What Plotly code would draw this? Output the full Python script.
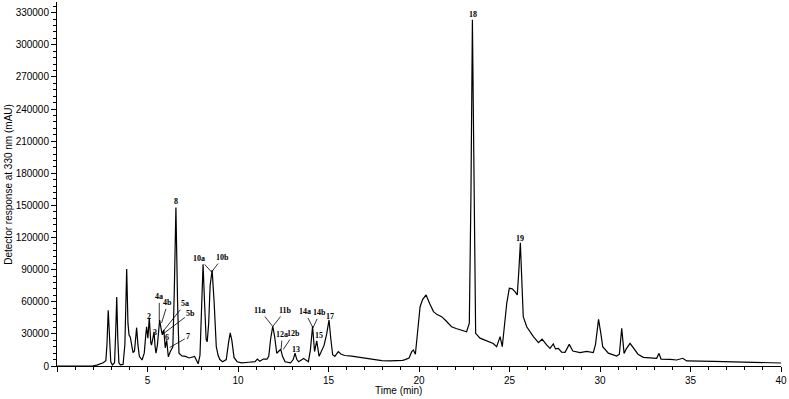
import plotly.graph_objects as go

# Retention time (min) and detector response (mAU)
time_min = [0.0, 1.5, 2.0, 2.2, 2.4, 2.55, 2.7, 2.76, 2.83, 2.9, 2.97, 3.06, 3.18, 3.24, 3.30, 3.36, 3.42, 3.5,
            3.65, 3.75, 3.85, 3.92, 3.98, 4.05, 4.12, 4.2, 4.28, 4.34, 4.40, 4.47, 4.55, 4.7, 4.82, 4.9, 4.95,
            5.02, 5.10, 5.18, 5.22, 5.30, 5.36, 5.42, 5.47, 5.55, 5.62, 5.67, 5.75, 5.82, 5.9, 5.98, 6.06, 6.15,
            6.25, 6.32, 6.4, 6.48, 6.57, 6.66, 6.74, 6.9, 7.1, 7.3, 7.5, 7.6, 7.7, 7.8, 7.9, 7.98, 8.07, 8.15,
            8.24, 8.30, 8.38, 8.46, 8.57, 8.68, 8.8, 8.9, 9.0, 9.15, 9.35, 9.48, 9.57, 9.66, 9.78, 9.95, 10.2,
            10.6, 10.94, 11.07, 11.2, 11.4, 11.6, 11.7, 11.8, 11.92, 12.02, 12.14, 12.25, 12.36, 12.46, 12.6,
            12.9, 13.05, 13.15, 13.25, 13.35, 13.5, 13.63, 13.75, 13.89, 14.0, 14.12, 14.23, 14.35, 14.48, 14.6,
            14.75, 14.9, 15.03, 15.13, 15.23, 15.35, 15.54, 15.7, 15.9, 16.28, 16.6, 17.2, 17.5, 17.94, 18.4,
            18.86, 19.1, 19.23, 19.45, 19.6, 19.69, 19.8, 19.9, 20.06, 20.2, 20.39, 20.6, 20.8, 21.0, 21.25,
            21.5, 21.8, 22.05, 22.27, 22.63, 22.78, 22.87, 22.95, 23.03, 23.13, 23.37, 23.6, 23.92, 24.1, 24.29,
            24.48, 24.6, 24.72, 24.85, 24.99, 25.15, 25.3, 25.43, 25.52, 25.6, 25.68, 25.76, 25.95, 26.32, 26.6,
            26.8, 27.05, 27.24, 27.42, 27.54, 27.7, 27.88, 28.07, 28.3, 28.5, 28.9, 29.26, 29.63, 29.75, 29.92,
            30.05, 30.15, 30.46, 30.92, 31.07, 31.2, 31.33, 31.45, 31.66, 31.85, 32.1, 32.39, 33.13, 33.26,
            33.37, 33.87, 34.24, 34.57, 34.79, 36.26, 38.1, 40.0]
response = [0, 0, 200, 800, 1800, 3000, 5000, 20000, 52000, 20000, 4000, 1000, 3000, 30000, 64500, 25000, 3000, 1000,
            1500, 20000, 90700, 40000, 29000, 27000, 20000, 12500, 14000, 25000, 35800, 20000, 9000, 5600, 12000, 28000, 36700,
            26000, 45000, 22000, 19600, 26000, 32000, 18000, 12000, 20000, 35000, 43000, 35000, 29000, 33600, 17000, 24000, 8700,
            13000, 15000, 18000, 70000, 148000, 60000, 12000, 9500, 9000, 7500, 8700, 9000, 5500, 2000, 10000, 55000, 95000, 60000,
            25000, 22700, 40000, 75000, 89700, 60000, 18000, 10000, 6000, 4000, 6000, 22000, 31000, 24000, 8000, 4000, 3000,
            3500, 4000, 6500, 4500, 6500, 6500, 9000, 25000, 37000, 28000, 11900, 14000, 15600, 9000, 4000,
            3000, 6000, 11900, 6000, 4000, 5600, 7000, 5500, 4000, 15000, 37000, 13500, 23400, 9000, 14000,
            19000, 30000, 43000, 25000, 10500, 9000, 13400, 11000, 9800, 9300, 8400, 6500, 6000, 5000, 4800,
            4700, 5200, 6000, 7500, 13400, 15000, 11000, 30000, 55400, 62000, 66400, 58000, 50800, 48000, 46100,
            42000, 36700, 35000, 33700, 32000, 40000, 160000, 323500, 160000, 30500, 26000, 24500, 22700, 21000, 18000,
            27400, 18000, 35000, 58800, 72600, 72000, 69500, 66400, 90000, 115000, 80000, 46100, 36700, 27400, 21800,
            25000, 19700, 16500, 20600, 16000, 16500, 13000, 12700, 20200, 14000, 12500, 13700, 12500, 20000, 43600,
            30000, 18000, 12000, 9300, 11000, 35200, 11800, 16000, 21200, 17000, 11000, 8100, 7200, 11800,
            6500, 6200, 5600, 7200, 4700, 4400, 3700, 2800]

# Peak labels without leader lines: text, time, response
plain_labels = ["8", "18", "19", "2", "3", "6", "13", "15", "17"]
plain_t = [6.57, 22.98, 25.58, 5.10, 5.41, 6.06, 13.19, 14.48, 15.08]
plain_v = [153600, 328300, 119100, 46500, 31600, 26900, 15400, 28800, 46000]

# Peak labels with leader lines: text, label position, peak (line end) position
lead_labels = ["4a", "4b", "5a", "5b", "7", "10a", "10b", "11a", "11b", "12a", "12b", "14a", "14b"]
lead_text_t = [5.65, 6.12, 7.07, 7.39, 7.25, 7.86, 9.15, 11.22, 12.61, 12.45, 13.09, 13.70, 14.53]
lead_text_v = [64600, 59000, 58100, 49500, 27100, 100400, 101300, 51800, 51800, 29400, 30400, 50600, 49700]
lead_peak_t = [5.65, 5.78, 5.81, 5.81, 6.22, 8.54, 8.54, 11.92, 11.92, 12.38, 12.50, 14.14, 14.14]
lead_peak_v = [41800, 40300, 31300, 29400, 17300, 87800, 87800, 36900, 36900, 15400, 15400, 35700, 35700]

fig = go.Figure()
fig.add_trace(go.Scatter(x=time_min, y=response, mode="lines",
                         line=dict(color="black", width=1.2), showlegend=False, hoverinfo="x+y"))

label_font = dict(family="Liberation Serif, Times New Roman, serif", size=8, color="black")
for txt, t, v in zip(plain_labels, plain_t, plain_v):
    fig.add_annotation(x=t, y=v, text="<b>%s</b>" % txt, showarrow=False, font=label_font)
for txt, tt, tv, pt, pv in zip(lead_labels, lead_text_t, lead_text_v, lead_peak_t, lead_peak_v):
    fig.add_annotation(x=pt, y=pv, ax=tt, ay=tv, axref="x", ayref="y", text="<b>%s</b>" % txt,
                       showarrow=True, arrowhead=0, arrowwidth=0.8, arrowcolor="black",
                       standoff=0, startstandoff=0, font=label_font)

axis_font = dict(family="Liberation Sans, Arial, sans-serif", size=10, color="black")

# Axis titles placed as paper-anchored annotations
fig.add_annotation(xref="paper", yref="paper", x=0.471, y=-0.068, yanchor="middle", xanchor="center",
                   text="Time (min)", showarrow=False, font=axis_font)
fig.add_annotation(xref="paper", yref="paper", x=-0.068, y=0.5, xanchor="center", yanchor="middle",
                   text="Detector response at 330 nm (mAU)", textangle=-90, showarrow=False, font=axis_font)

fig.update_layout(
    width=789, height=399,
    margin=dict(l=57, r=8, t=2, b=33, autoexpand=False),
    paper_bgcolor="white", plot_bgcolor="white",
    font=axis_font,
    xaxis=dict(range=[0, 40.0], showgrid=False, zeroline=False, showline=True, linecolor="black", linewidth=1,
               automargin=False,
               ticks="outside", ticklen=5, tickcolor="black", tick0=0, dtick=5, labelalias={"0": ""},
               minor=dict(ticks="outside", ticklen=3, tickcolor="black", dtick=1, tick0=0, showgrid=False),
               tickfont=axis_font),
    yaxis=dict(range=[0, 340000], showgrid=False, zeroline=False, showline=True, linecolor="black", linewidth=1,
               automargin=False,
               ticks="outside", ticklen=5, tickcolor="black", tick0=0, dtick=30000, tickformat="d",
               minor=dict(ticks="outside", ticklen=3, tickcolor="black", dtick=6000, tick0=0, showgrid=False),
               tickfont=axis_font),
)

fig.write_html("out.html", config={"displayModeBar": False},
               post_script="document.body.style.margin='0px';document.body.style.padding='0px';"
                           "document.body.style.overflow='hidden';")
